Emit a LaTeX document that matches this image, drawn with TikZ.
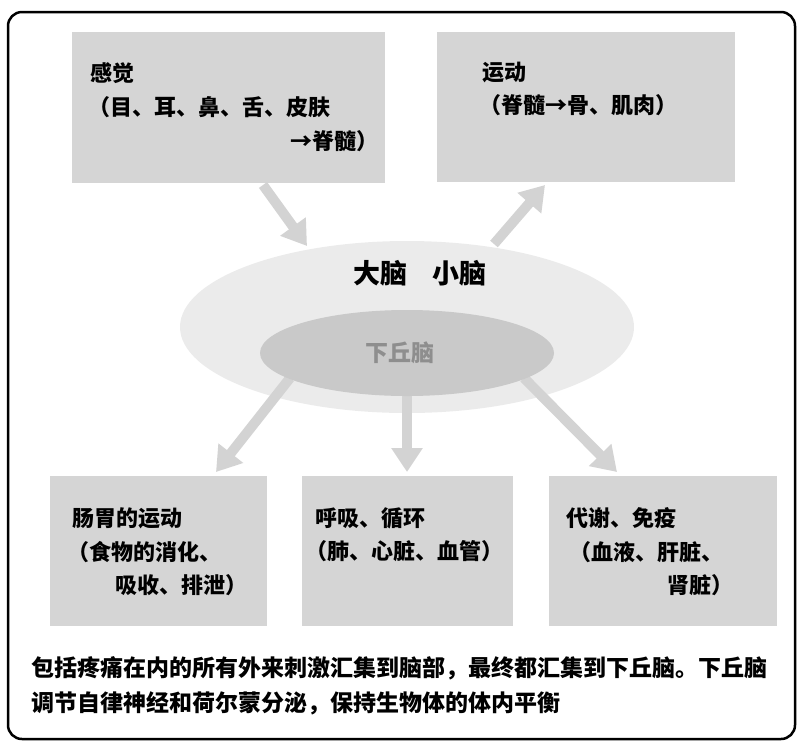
\documentclass[tikz,border=0pt]{standalone}
\usepackage{fontspec}
\setmainfont{Noto Sans CJK SC}
\usetikzlibrary{arrows.meta,shapes.geometric}
\definecolor{boxgray}{HTML}{D5D5D5}
\definecolor{arrowgray}{HTML}{D3D3D3}
\definecolor{outerell}{HTML}{EBEBEB}
\definecolor{innerell}{HTML}{C9C9C9}
\definecolor{hypotext}{HTML}{8E8E8E}
\begin{document}
\begin{tikzpicture}[x=1pt,y=-1pt]
\tikzset{
  panel/.style={rectangle, fill=boxgray, draw=none, inner sep=0pt},
  lbl/.style={inner sep=0pt, font=\fontsize{22}{22}\selectfont\bfseries, text=black},
  fatarrow/.style={line width=10pt, draw=arrowgray, -{Triangle[width=30pt,length=24pt]}},
  brain/.style={ellipse, draw=none, inner sep=0pt},
}
\useasboundingbox (0,0) rectangle (797,740);
\draw[line width=2.5pt, rounded corners=14pt] (8,12) rectangle (795,739);

% top panels
\node[panel, minimum width=313pt, minimum height=151pt] (sense) at (228.5,107.5) {};
\node[panel, minimum width=298pt, minimum height=150pt] (motor) at (586,107) {};
% bottom panels
\node[panel, minimum width=217pt, minimum height=150pt] (gut) at (158.5,551) {};
\node[panel, minimum width=211pt, minimum height=150pt] (breath) at (407.5,551) {};
\node[panel, minimum width=228pt, minimum height=150pt] (meta) at (663,551) {};

% brain ellipses and arrows
\node[brain, fill=outerell, minimum width=454pt, minimum height=172pt] (cerebrum) at (407,327) {};
\coordinate (s1) at (263,185);
\coordinate (e1) at (307,246);
\coordinate (s2) at (494,244);
\coordinate (e2) at (545,185);
\coordinate (s3) at (290,378);
\coordinate (e3) at (216,472);
\coordinate (s4) at (407,390);
\coordinate (e4) at (407,472);
\coordinate (s5) at (524,378);
\coordinate (e5) at (617,472);
\draw[fatarrow] (s1) -- (e1);
\draw[fatarrow] (s2) -- (e2);
\draw[fatarrow] (s3) -- (e3);
\draw[fatarrow] (s4) -- (e4);
\draw[fatarrow] (s5) -- (e5);
\node[brain, fill=innerell, minimum width=294pt, minimum height=86pt] (hypo) at (407,353) {};

\node[inner sep=0pt, font=\fontsize{27}{27}\selectfont\bfseries] (bigbrain) at (420,273) {大脑\hspace{26pt}小脑};
\node[inner sep=0pt, font=\fontsize{23}{23}\selectfont\bfseries, text=hypotext] (hypolbl) at (400,353) {下丘脑};

% texts in top-left panel
\node[lbl, anchor=west] (t11) at (90,73) {感觉};
\node[lbl, anchor=west] (t12) at (88,107) {（目、耳、鼻、舌、皮肤};
\node[lbl, anchor=east] (t13) at (379,141) {→脊髓）};
% top-right panel
\node[lbl, anchor=west] (t21) at (482,72) {运动};
\node[lbl, anchor=west] (t22) at (479,105) {（脊髓→骨、肌肉）};
% bottom panels
\node[lbl, anchor=west] (b11) at (72,518) {肠胃的运动};
\node[lbl, anchor=west] (b12) at (67,552) {（食物的消化、};
\node[lbl, anchor=west] (b13) at (115,585) {吸收、排泄）};
\node[lbl, anchor=west] (b21) at (315,518) {呼吸、循环};
\node[lbl, anchor=west] (b22) at (305,551) {（肺、心脏、血管）};
\node[lbl, anchor=west] (b31) at (566,518) {代谢、免疫};
\node[lbl, anchor=west] (b32) at (569,552) {（血液、肝脏、};
\node[lbl, anchor=west] (b33) at (667,585) {肾脏）};

% caption
\node[inner sep=0pt, anchor=west, font=\fontsize{23}{23}\selectfont\bfseries] (cap1) at (31,668) {包括疼痛在内的所有外来刺激汇集到脑部，最终都汇集到下丘脑。下丘脑};
\node[inner sep=0pt, anchor=west, font=\fontsize{23}{23}\selectfont\bfseries] (cap2) at (31,703) {调节自律神经和荷尔蒙分泌，保持生物体的体内平衡};
\end{tikzpicture}
\end{document}
